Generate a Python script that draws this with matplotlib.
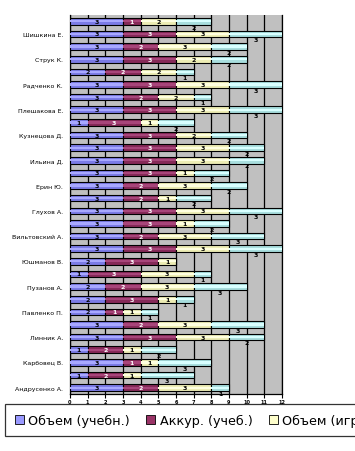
import matplotlib
matplotlib.use("Agg")
import matplotlib.pyplot as plt
from matplotlib.patches import Patch
import numpy as np

plt.rcParams['font.family'] = ['DejaVu Sans']

# categories listed top to bottom (every other one labelled, as in the source)
categories = ["", "Шишкина Е.", "", "Струк К.", "", "Радченко К.", "", "Плешакова Е.",
              "", "Кузнецова Д.", "", "Ильина Д.", "", "Ерин Ю.", "", "Глухов А.",
              "", "Вильтовский А.", "", "Юшманов В.", "", "Пузанов А.", "", "Павленко П.",
              "", "Линник А.", "", "Карбовец В.", "", "Андрусенко А."]
series_names = ["Объем (учебн.)", "Аккур. (учеб.)", "Объем (игр.)", "Аккур. (игр.)"]
obem_ucheb = [3, 3, 3, 3, 2, 3, 3, 3, 1, 3, 3, 3, 3, 3, 3, 3, 3, 3, 3, 2, 1, 2, 2, 2, 3, 3, 1, 3, 1, 3]
akkur_ucheb = [1, 3, 2, 3, 2, 3, 2, 3, 3, 3, 3, 3, 3, 2, 2, 3, 3, 2, 3, 3, 3, 2, 3, 1, 2, 3, 2, 1, 2, 2]
obem_igr = [2, 3, 3, 2, 2, 3, 2, 3, 1, 2, 3, 3, 1, 3, 1, 3, 1, 3, 3, 1, 3, 3, 1, 1, 3, 3, 1, 1, 1, 3]
akkur_igr = [2, 3, 2, 2, 1, 3, 1, 3, 2, 2, 2, 2, 2, 2, 2, 3, 2, 3, 3, 0, 1, 3, 1, 1, 3, 2, 2, 3, 3, 1]
x_ticks = list(range(0, 13))

series = [obem_ucheb, akkur_ucheb, obem_igr, akkur_igr]
base_colors = ["#7B7BE6", "#862A58", "#EDEDB4", "#A8DEDE"]
light_colors = ["#A8A8FF", "#A8457A", "#FFFFE0", "#D8FFFF"]
legend_colors = ["#9999FF", "#993366", "#FFFFCC", "#CCFFFF"]
label_colors = ["black", "white", "black", "black"]

fig = plt.figure(figsize=(3.55, 4.52), dpi=100)
ax = fig.add_axes([70/355, 1 - 395/452, 212/355, 379/452])
ax.set_facecolor("#C0C0C0")

y = np.arange(len(categories))
left = np.zeros(len(categories))
h = 0.52
for i, vals in enumerate(series):
    vals = np.array(vals, dtype=float)
    ax.barh(y, vals, left=left, height=h, color=base_colors[i],
            edgecolor="black", linewidth=0.8, zorder=3)
    ax.barh(y, vals, left=left, height=h * 0.35, color=light_colors[i],
            edgecolor="none", linewidth=0, zorder=4)
    for yi, (l, v) in enumerate(zip(left, vals)):
        if v <= 0:
            continue
        cx = l + v / 2
        cy = yi + (0.45 if i == 3 else 0.0)
        ax.text(cx, cy, f"{int(v)}", ha="center", va="center", fontsize=4.5,
                color=label_colors[i], fontweight="bold", zorder=6)
    left = left + vals

ax.set_xlim(0, 12)
ax.set_ylim(len(categories) - 0.5, -0.5)
ax.set_xticks(x_ticks)
ax.set_xticklabels([str(t) for t in x_ticks], fontsize=3.6, fontweight="bold")
ax.set_yticks(y)
ax.set_yticklabels(categories, fontsize=4.5)
ax.tick_params(axis="y", length=0, pad=5)
ax.tick_params(axis="x", length=3, width=0.8, pad=0.5, direction="out")
ax.xaxis.grid(True, color="black", linewidth=0.9, zorder=1)
ax.set_axisbelow(True)
ax.spines["top"].set_visible(False)
for s in ["left", "bottom", "right"]:
    ax.spines[s].set_color("black")
    ax.spines[s].set_linewidth(0.9)

handles = [Patch(facecolor=c, edgecolor="black", linewidth=0.6) for c in legend_colors]
leg = fig.legend(handles, series_names, loc="upper left",
                 bbox_to_anchor=(5/355, 1 - 405/452), ncol=4, fontsize=9.2,
                 frameon=True, fancybox=False, edgecolor="black",
                 handlelength=0.7, handleheight=0.7, handletextpad=0.35,
                 columnspacing=1.3, borderpad=0.75, borderaxespad=0)
leg.get_frame().set_linewidth(0.9)

fig.savefig("out.png", dpi=100)
